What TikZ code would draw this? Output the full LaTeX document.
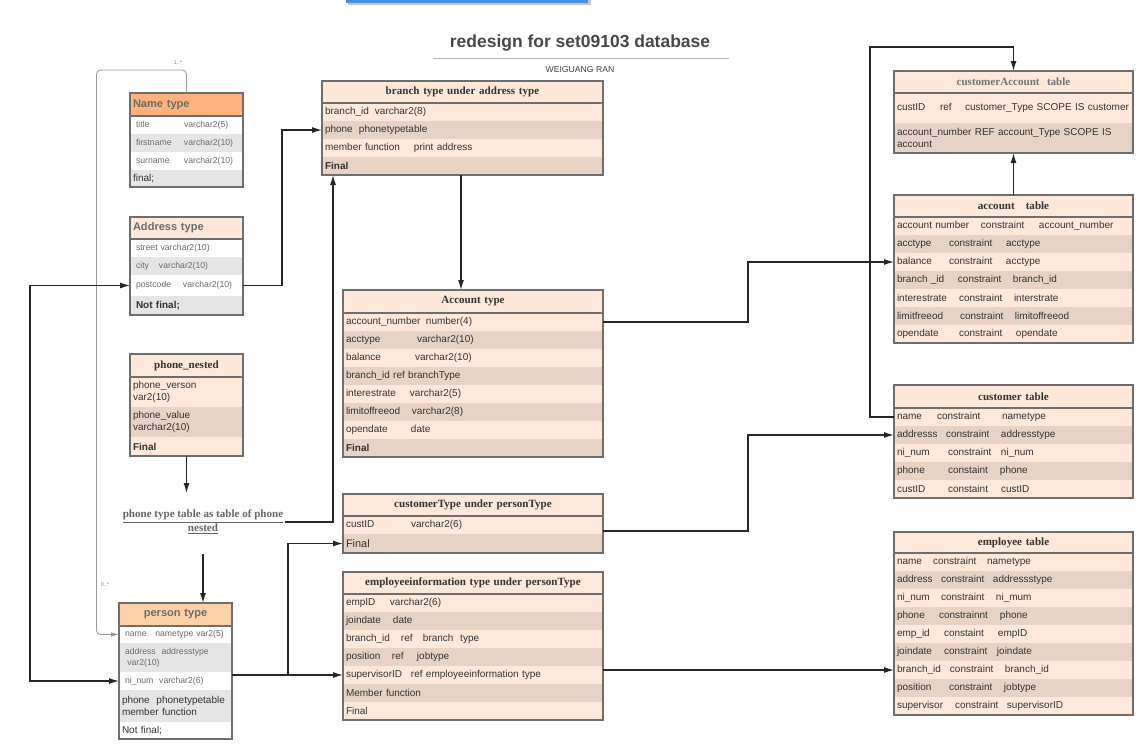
\documentclass[tikz,border=0pt]{standalone}
\usepackage{fontspec}
\setmainfont{Liberation Sans}
\newfontfamily\seriff{Liberation Serif}
\usetikzlibrary{arrows.meta}
\definecolor{lp}{HTML}{FDE8DA}
\definecolor{dp}{HTML}{E6D3C5}
\definecolor{gr}{HTML}{E5E5E5}
\definecolor{orH}{HTML}{FFB27B}
\definecolor{peH}{HTML}{FFD1A9}
\definecolor{bd}{HTML}{6E6E6E}
\definecolor{tx}{HTML}{333333}
\definecolor{hg}{HTML}{6B6B6B}
\definecolor{bl}{HTML}{4A90E2}
\newcommand\cl[2]{\makebox[\dimexpr #1pt*3/4\relax][l]{#2}}
\newcommand\rowfont{\fontsize{7.5}{9.3}\selectfont}
\newcommand\smfont{\fontsize{6.5}{8.5}\selectfont}
\newcommand\hdfont{\seriff\bfseries\fontsize{8.3}{10}\selectfont}
\newcommand\hsfont{\bfseries\fontsize{8.3}{10}\selectfont}
% \trow{name}{x}{y}{w}{h}{fill}{opts}{text}
\newcommand\trow[8]{%
  \pgfmathsetlengthmacro\twid{#4*0.75pt-4.5pt}%
  \node[trow,fill=#6,text width=\twid,minimum height=#5*0.75pt,#7] (#1) at (#2,#3) {#8};}
\newcommand\tframe[2]{%
  \draw[tb] (#1.north west) rectangle (#2.south east);
  \draw[tb] (#1.south west) -- (#1.south east);}
\tikzset{
  trow/.style={anchor=north west,inner xsep=2.25pt,inner ysep=0pt,outer sep=0pt,align=left,font=\rowfont,text=tx},
  hd/.style={align=center,font=\hdfont},
  hs/.style={font=\hsfont,text=hg},
  sm/.style={font=\smfont,text=hg},
  tb/.style={draw=bd,line width=0.9pt},
  conn/.style={draw=black!85,line width=0.9pt},
  arr/.style={conn,-{Latex[length=7.5pt,width=4.5pt]}},
  arrb/.style={conn,{Latex[length=7.5pt,width=4.5pt]}-{Latex[length=7.5pt,width=4.5pt]}},
  gconn/.style={draw=black!40,line width=0.6pt,rounded corners=3pt,-{Latex[length=6pt,width=3.5pt]}},
  mult/.style={font=\fontsize{4}{5}\selectfont,text=black!50,inner sep=0pt},
}
\begin{document}
\begin{tikzpicture}[x=0.75pt,y=-0.75pt]
\useasboundingbox (0,0) rectangle (1145,744);
% top bar
\fill[black!22] (348,-4) rectangle (591,4.5);
\fill[bl] (346,-4) rectangle (588,2.5);
% title
\node[font=\bfseries\fontsize{13.1}{15}\selectfont,text=black!72] (title) at (580,43) {redesign for set09103 database};
\draw[black!30,line width=0.6pt] (433,58) -- (729,58);
\node[font=\fontsize{6.5}{8}\selectfont,text=black!75] (author) at (580,70) {WEIGUANG RAN};

% Name type
\trow{n0}{130}{93}{113}{23}{orH}{hs}{Name type}
\trow{n1}{130}{116}{113}{18}{white}{sm}{\hspace*{2.25pt}\cl{48}{title}varchar2(5)}
\trow{n2}{130}{134}{113}{18}{gr}{sm}{\hspace*{2.25pt}\cl{48}{firstname}varchar2(10)}
\trow{n3}{130}{152}{113}{18}{white}{sm}{\hspace*{2.25pt}\cl{48}{surname}varchar2(10)}
\trow{n4}{130}{170}{113}{17}{gr}{}{final;}
\tframe{n0}{n4}

% Address type
\trow{a0}{130}{217}{113}{22}{lp}{hs}{Address type}
\trow{a1}{130}{239}{113}{18}{white}{sm}{\hspace*{2.25pt}street varchar2(10)}
\trow{a2}{130}{257}{113}{18}{gr}{sm}{\hspace*{2.25pt}\cl{23}{city}varchar2(10)}
\trow{a3}{130}{275}{113}{21}{white}{sm}{\hspace*{2.25pt}\cl{47}{postcode}varchar2(10)}
\trow{a4}{130}{296}{113}{19}{gr}{font=\rowfont\bfseries}{\hspace*{2.25pt}Not final;}
\tframe{a0}{a4}

% phone_nested
\trow{p0}{130}{354}{113}{23}{lp}{hd}{phone\_nested}
\trow{p1}{130}{377}{113}{30}{lp}{}{phone\_verson\\var2(10)}
\trow{p2}{130}{407}{113}{30}{dp}{}{phone\_value\\varchar2(10)}
\trow{p3}{130}{437}{113}{19}{lp}{font=\rowfont\bfseries}{Final}
\tframe{p0}{p3}

% label
\node[font=\seriff\bfseries\fontsize{8.3}{10.5}\selectfont,text=black!60,align=center,inner sep=1pt] (lbl) at (203,522)
  {\underline{phone type table as table of phone}\\\underline{nested}};

% person type
\trow{q0}{119}{603}{113}{23}{peH}{hs,align=center}{person type}
\trow{q1}{119}{626}{113}{17}{white}{sm}{\hspace*{2.25pt}name\ \ \ nametype var2(5)}
\trow{q2}{119}{643}{113}{29}{gr}{sm}{\hspace*{2.25pt}address\ \ addresstype\\\hspace*{4pt}var2(10)}
\trow{q3}{119}{672}{113}{18}{white}{sm}{\hspace*{2.25pt}ni\_num\ \ varchar2(6)}
\trow{q4}{119}{690}{113}{32}{gr}{}{phone\ \ phonetypetable\\member function}
\trow{q5}{119}{722}{113}{17}{white}{}{Not final;}
\tframe{q0}{q5}

% branch type
\trow{b0}{322}{81}{281}{22}{lp}{hd}{branch type under address type}
\trow{b1}{322}{103}{281}{18}{lp}{}{\cl{50}{branch\_id}varchar2(8)}
\trow{b2}{322}{121}{281}{18}{dp}{}{\cl{34}{phone}phonetypetable}
\trow{b3}{322}{139}{281}{18}{lp}{}{\cl{89}{member function}print address}
\trow{b4}{322}{157}{281}{18}{dp}{font=\rowfont\bfseries}{Final}
\tframe{b0}{b4}

% Account type
\trow{t0}{343}{290}{260}{23}{lp}{hd}{Account type}
\trow{t1}{343}{313}{260}{18}{lp}{}{\cl{80}{account\_number}number(4)}
\trow{t2}{343}{331}{260}{18}{dp}{}{\cl{71}{acctype}varchar2(10)}
\trow{t3}{343}{349}{260}{18}{lp}{}{\cl{69}{balance}varchar2(10)}
\trow{t4}{343}{367}{260}{18}{dp}{}{branch\_id ref branchType}
\trow{t5}{343}{385}{260}{18}{lp}{}{\cl{64}{interestrate}varchar2(5)}
\trow{t6}{343}{403}{260}{18}{dp}{}{\cl{66}{limitoffreeod}varchar2(8)}
\trow{t7}{343}{421}{260}{18}{lp}{}{\cl{65}{opendate}date}
\trow{t8}{343}{439}{260}{18}{dp}{font=\rowfont\bfseries}{Final}
\tframe{t0}{t8}

% customerType
\trow{c0}{343}{494}{260}{22}{lp}{hd}{customerType under personType}
\trow{c1}{343}{516}{260}{18}{lp}{}{\cl{65}{custID}varchar2(6)}
\trow{c2}{343}{534}{260}{19}{dp}{font=\fontsize{8.2}{10}\selectfont}{Final}
\tframe{c0}{c2}

% employeeinformation
\trow{e0}{343}{572}{260}{22}{lp}{hd}{employeeinformation type under personType}
\trow{e1}{343}{594}{260}{18}{lp}{}{\cl{44}{empID}varchar2(6)}
\trow{e2}{343}{612}{260}{18}{dp}{}{\cl{47}{joindate}date}
\trow{e3}{343}{630}{260}{18}{lp}{}{\cl{55}{branch\_id}\cl{22}{ref}branch\ \ type}
\trow{e4}{343}{648}{260}{18}{dp}{}{\cl{46}{position}\cl{25}{ref}jobtype}
\trow{e5}{343}{666}{260}{18}{lp}{}{\cl{65}{supervisorID}\cl{15}{ref}employeeinformation type}
\trow{e6}{343}{684}{260}{18}{dp}{}{Member function}
\trow{e7}{343}{702}{260}{18}{lp}{}{Final}
\tframe{e0}{e7}

% customerAccount table
\trow{ca0}{894}{71}{239}{22}{lp}{hd,text=black!55}{customerAccount\ \ table}
\trow{ca1}{894}{93}{239}{30}{lp}{}{\cl{43}{custID}\cl{25}{ref}customer\_Type SCOPE IS customer}
\trow{ca2}{894}{123}{239}{30}{dp}{}{account\_number REF account\_Type SCOPE IS\\account}
\tframe{ca0}{ca2}

% account table
\trow{at0}{894}{195}{239}{22}{lp}{hd}{account\ \ \ table}
\trow{at1}{894}{217}{239}{18}{lp}{}{\cl{84}{account number}\cl{58}{constraint}account\_number}
\trow{at2}{894}{235}{239}{18}{dp}{}{\cl{52}{acctype}\cl{57}{constraint}acctype}
\trow{at3}{894}{253}{239}{18}{lp}{}{\cl{52}{balance}\cl{57}{constraint}acctype}
\trow{at4}{894}{271}{239}{18}{dp}{}{\cl{61}{branch \_id}\cl{55}{constraint}branch\_id}
\trow{at5}{894}{289}{239}{18}{lp}{}{\cl{62}{interestrate}\cl{55}{constraint}interstrate}
\trow{at6}{894}{307}{239}{18}{dp}{}{\cl{63}{limitfreeod}\cl{55}{constraint}limitoffreeod}
\trow{at7}{894}{325}{239}{18}{lp}{}{\cl{62}{opendate}\cl{57}{constraint}opendate}
\tframe{at0}{at7}

% customer table
\trow{cu0}{894}{385}{239}{23}{lp}{hd}{customer table}
\trow{cu1}{894}{408}{239}{18}{lp}{}{\cl{40}{name}\cl{65}{constraint}nametype}
\trow{cu2}{894}{426}{239}{18}{dp}{}{\cl{49}{addresss}\cl{55}{constraint}addresstype}
\trow{cu3}{894}{444}{239}{18}{lp}{}{\cl{51}{ni\_num}\cl{53}{constraint}ni\_num}
\trow{cu4}{894}{462}{239}{18}{dp}{}{\cl{51}{phone}\cl{52}{constaint}phone}
\trow{cu5}{894}{480}{239}{18}{lp}{}{\cl{51}{custID}\cl{53}{constaint}custID}
\tframe{cu0}{cu5}

% employee table
\trow{et0}{894}{532}{239}{21}{lp}{hd}{employee table}
\trow{et1}{894}{553}{239}{18}{lp}{}{\cl{36}{name}\cl{54}{constraint}nametype}
\trow{et2}{894}{571}{239}{18}{dp}{}{\cl{44}{address}\cl{52}{constraint}addressstype}
\trow{et3}{894}{589}{239}{18}{lp}{}{\cl{44}{ni\_num}\cl{55}{constraint}ni\_mum}
\trow{et4}{894}{607}{239}{18}{dp}{}{\cl{42}{phone}\cl{61}{constrainnt}phone}
\trow{et5}{894}{625}{239}{18}{lp}{}{\cl{47}{emp\_id}\cl{54}{constaint}empID}
\trow{et6}{894}{643}{239}{18}{dp}{}{\cl{47}{joindate}\cl{53}{constraint}joindate}
\trow{et7}{894}{661}{239}{18}{lp}{}{\cl{53}{branch\_id}\cl{55}{constraint}branch\_id}
\trow{et8}{894}{679}{239}{18}{dp}{}{\cl{52}{position}\cl{55}{constraint}jobtype}
\trow{et9}{894}{697}{239}{18}{lp}{}{\cl{58}{supervisor}\cl{52}{constraint}supervisorID}
\tframe{et0}{et9}

% multiplicity labels
\node[mult] (m1) at (178,63) {1..*};
\node[mult] (m2) at (105,585) {0..*};

% connectors
\draw[gconn] (n0.north) -- ++(0,-23) -- ++(-90,0) |- (q1.west);
\draw[arrb] (a3.west) -- ++(-100,0) |- (q3.west);
\draw[arr] (a3.east) -- ++(39,0) |- (b2.west);
\draw[arr] (p3.south) -- ++(0,37);
\coordinate (ls) at ([yshift=-13.5pt]lbl.south);
\draw[arr] (ls) -- (ls |- q0.north);
\coordinate (bin) at ([xshift=8.25pt]b4.south west);
\draw[arr] (lbl.east) -| (bin);
\coordinate (bout) at ([xshift=104.25pt]b4.south west);
\draw[arr] (bout) -- (bout |- t0.north);
\draw[arr] (t1.east) -- ++(145,0) |- (at3.west);
\coordinate (cE) at ([yshift=-4.5pt]c1.east);
\draw[arr] (cE) -- ++(145,0) |- (cu2.west);
\coordinate (pE) at (e5.west -| q3.east);
\draw[arr] (pE) -- (e5.west);
\draw[arr] (pE) -- ++(56,0) |- (c2.west);
\draw[arr] (et7.west -| e5.east) -- (et7.west);
\draw[arr] (cu1.west) -- ++(-24,0) |- ([yshift=18pt]ca0.north) -- (ca0.north);
\draw[arr] (at0.north) -- (ca2.south);
\end{tikzpicture}
\end{document}
